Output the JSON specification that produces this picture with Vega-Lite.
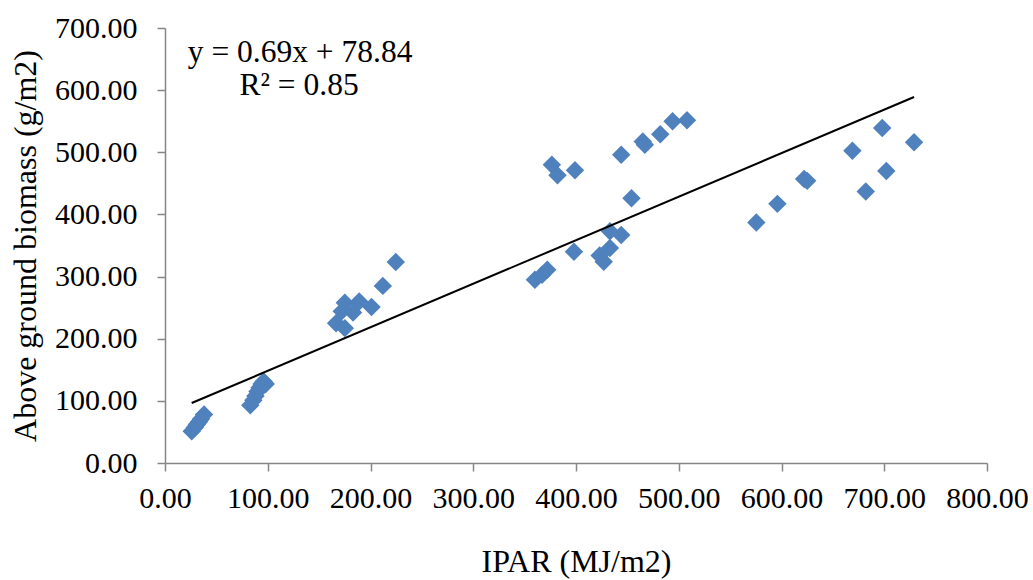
{
  "$schema": "https://vega.github.io/schema/vega-lite/v6.json",
  "width": 822,
  "height": 435,
  "autosize": "none",
  "padding": {"left": 165, "top": 28, "right": 46, "bottom": 117},
  "background": "white",
  "config": {
    "view": {"stroke": null},
    "font": "Liberation Serif",
    "axis": {
      "grid": false,
      "domainColor": "#868686",
      "domainWidth": 1.5,
      "tickColor": "#868686",
      "tickWidth": 1.5,
      "tickSize": 8,
      "labelFont": "Liberation Serif",
      "labelFontSize": 30,
      "labelColor": "black",
      "labelOverlap": false,
      "labelFlush": false,
      "titleFont": "Liberation Serif",
      "titleFontSize": 32,
      "titleFontWeight": "normal",
      "titleColor": "black"
    }
  },
  "datasets": {
    "pts": [
      {"ipar": 26, "agb": 51}, {"ipar": 29, "agb": 57}, {"ipar": 31, "agb": 62}, {"ipar": 33, "agb": 66}, {"ipar": 35, "agb": 71}, {"ipar": 38, "agb": 78},
      {"ipar": 83, "agb": 93}, {"ipar": 86, "agb": 101}, {"ipar": 88, "agb": 108}, {"ipar": 90, "agb": 115}, {"ipar": 92, "agb": 121}, {"ipar": 94, "agb": 127}, {"ipar": 96, "agb": 131}, {"ipar": 98, "agb": 127},
      {"ipar": 166.5, "agb": 225}, {"ipar": 172, "agb": 244}, {"ipar": 175, "agb": 258}, {"ipar": 175, "agb": 217}, {"ipar": 183, "agb": 242}, {"ipar": 189, "agb": 260}, {"ipar": 201, "agb": 251}, {"ipar": 212, "agb": 285}, {"ipar": 224.6, "agb": 323.5},
      {"ipar": 360, "agb": 295}, {"ipar": 367, "agb": 303}, {"ipar": 372, "agb": 311}, {"ipar": 398, "agb": 340}, {"ipar": 423, "agb": 334}, {"ipar": 427, "agb": 324}, {"ipar": 433, "agb": 346}, {"ipar": 433, "agb": 373}, {"ipar": 444, "agb": 367}, {"ipar": 454, "agb": 426},
      {"ipar": 376.5, "agb": 480}, {"ipar": 382, "agb": 463}, {"ipar": 399, "agb": 471}, {"ipar": 444, "agb": 496}, {"ipar": 465, "agb": 517.5}, {"ipar": 467, "agb": 512}, {"ipar": 482, "agb": 529}, {"ipar": 494, "agb": 550}, {"ipar": 508, "agb": 551.5},
      {"ipar": 575.5, "agb": 387}, {"ipar": 596, "agb": 417}, {"ipar": 622, "agb": 457}, {"ipar": 625, "agb": 454}, {"ipar": 669, "agb": 502.6}, {"ipar": 682, "agb": 437}, {"ipar": 698, "agb": 539}, {"ipar": 702, "agb": 470}, {"ipar": 729, "agb": 516}
    ],
    "trend": [
      {"ipar": 26, "agb": 96.5},
      {"ipar": 729, "agb": 589}
    ],
    "notes": [
      {"label": "y = 0.69x + 78.84", "ipar": 131.5, "agb": 645.8},
      {"label": "R² = 0.85", "ipar": 130.5, "agb": 592.6}
    ]
  },
  "layer": [
    {
      "data": {"name": "pts"},
      "mark": {"type": "point", "shape": "diamond", "filled": true, "size": 340, "color": "#4F81BD", "opacity": 1},
      "encoding": {
        "x": {
          "field": "ipar", "type": "quantitative",
          "scale": {"domain": [0, 800], "nice": false, "zero": true},
          "axis": {
            "values": [0, 100, 200, 300, 400, 500, 600, 700, 800],
            "format": ".2f",
            "labelPadding": 12,
            "title": "IPAR (MJ/m2)",
            "titleBaseline": "alphabetic",
            "titleY": 108
          }
        },
        "y": {
          "field": "agb", "type": "quantitative",
          "scale": {"domain": [0, 700], "nice": false},
          "axis": {
            "values": [0, 100, 200, 300, 400, 500, 600, 700],
            "format": ".2f",
            "labelPadding": 20,
            "title": "Above ground biomass (g/m2)",
            "titleBaseline": "alphabetic",
            "titleX": -130
          }
        }
      }
    },
    {
      "data": {"name": "trend"},
      "mark": {"type": "line", "color": "black", "strokeWidth": 2},
      "encoding": {
        "x": {"field": "ipar", "type": "quantitative"},
        "y": {"field": "agb", "type": "quantitative"}
      }
    },
    {
      "data": {"name": "notes"},
      "mark": {"type": "text", "font": "Liberation Serif", "fontSize": 31.5, "align": "center", "baseline": "alphabetic", "color": "black"},
      "encoding": {
        "x": {"field": "ipar", "type": "quantitative"},
        "y": {"field": "agb", "type": "quantitative"},
        "text": {"field": "label"}
      }
    }
  ]
}
